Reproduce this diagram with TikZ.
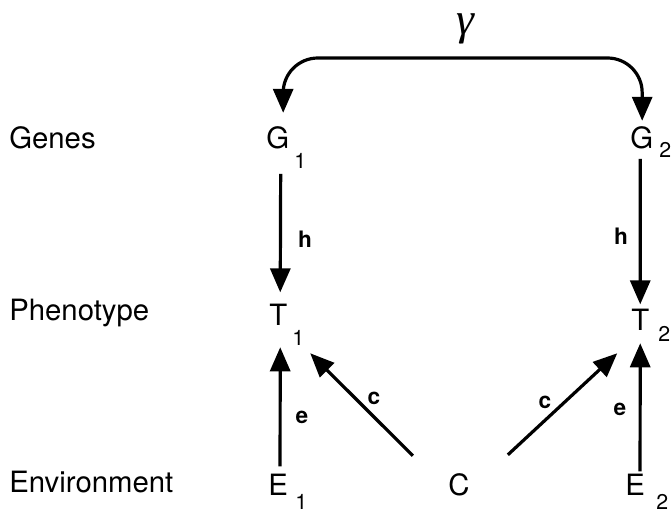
\documentclass[tikz,border=0pt]{standalone}
\usepackage{fontspec}
\setmainfont{TeX Gyre Heros}
\newfontfamily\gkfont{Liberation Serif}
\usetikzlibrary{arrows.meta}
\begin{document}
\begin{tikzpicture}[x=0.75pt,y=-0.75pt,
  sidelabel/.style={anchor=base west,inner sep=0pt,font=\fontsize{22}{22}\selectfont},
  var/.style={anchor=base west,inner sep=0pt,font=\fontsize{22}{22}\selectfont},
  sub/.style={anchor=base west,inner sep=0pt,font=\fontsize{16}{16}\selectfont},
  coef/.style={inner sep=0pt,font=\fontsize{17}{17}\selectfont\bfseries},
  arr/.style={line width=2.4pt,-{Triangle[length=18pt,width=15pt]}},
  dblarr/.style={line width=2.4pt,{Triangle[length=18pt,width=15pt]}-{Triangle[length=18pt,width=15pt]}},
]
\useasboundingbox (0,0) rectangle (671,514);

% side labels
\node[sidelabel] (genes) at (9,148) {Genes};
\node[sidelabel] (pheno) at (9,320) {Phenotype};
\node[sidelabel] (env) at (9,492) {Environment};

% variables
\node[var] (G1) at (266,148) {G};
\node[sub] (G1s) at (294,168) {1};
\node[var] (G2) at (630,148) {G};
\node[sub] (G2s) at (659,157) {2};
\node[var] (T1) at (269,325) {T};
\node[sub] (T1s) at (292,345) {1};
\node[var] (T2) at (631,330) {T};
\node[sub] (T2s) at (658,341) {2};
\node[var] (E1) at (268,495) {E};
\node[sub] (E1s) at (295,509) {1};
\node[var] (E2) at (625,495) {E};
\node[sub] (E2s) at (656,509) {2};
\node[var] (C) at (448,495) {C};

% coefficient labels
\node[inner sep=0pt,font=\fontsize{34}{34}\selectfont\gkfont\itshape] (gamma) at (465,29) {γ};
\node[coef] (h1) at (305,239) {h};
\node[coef] (h2) at (621,236) {h};
\node[coef] (e1) at (302,417) {e};
\node[coef] (e2) at (620,409) {e};
\node[coef] (c1) at (374,398) {c};
\node[coef] (c2) at (545,402) {c};

% connectors
\coordinate (topbar) at (465,58);
\draw[dblarr, rounded corners=26pt] ([shift={(5.5,-13)}]G1.north) |- (topbar) -| ([shift={(0.5,-5)}]G2.north);
\draw[arr] ([shift={(3,25)}]G1.south) -- ([shift={(2,-11)}]T1.north);
\draw[arr] ([shift={(-1.4,10)}]G2.south) -- ([shift={(0,-4)}]T2.north);
\draw[arr] ([shift={(2,-7)}]E1.north) -- ([shift={(2,22)}]T1.south);
\draw[arr] ([shift={(5,-2)}]E2.north) -- ([shift={(0,13)}]T2.south);
\draw[arr] ([shift={(-46,-17)}]C.north) -- ([shift={(32,28)}]T1.south);
\draw[arr] ([shift={(49,-18)}]C.north) -- ([shift={(-23,23)}]T2.south);
\end{tikzpicture}
\end{document}
